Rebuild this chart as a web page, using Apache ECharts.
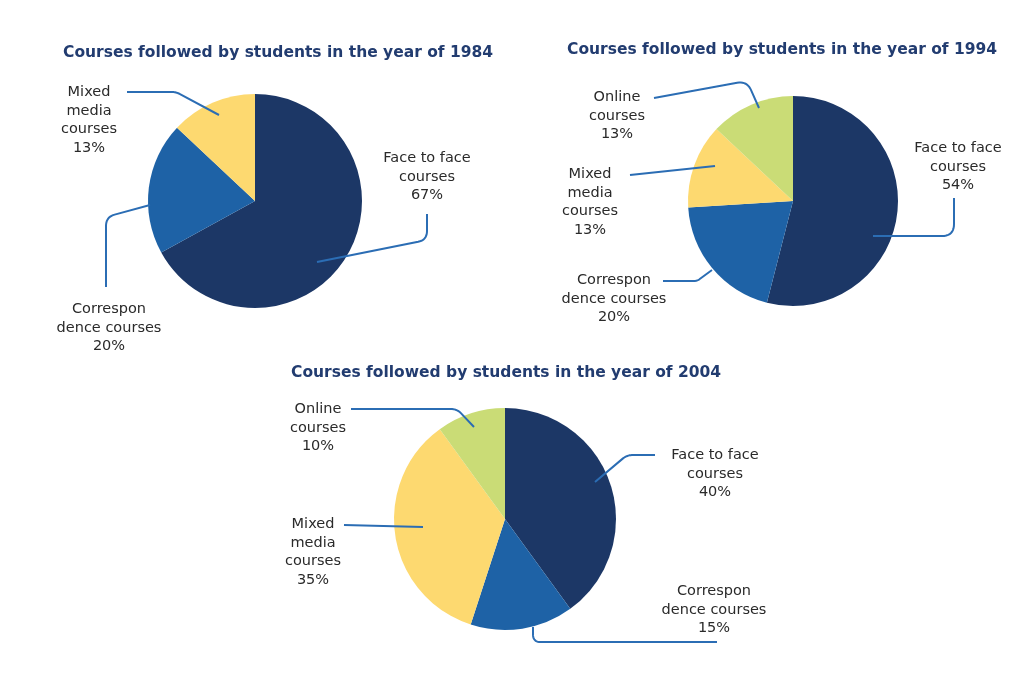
<!DOCTYPE html>
<html><head><meta charset="utf-8">
<script src="https://cdn.jsdelivr.net/npm/echarts@6/dist/echarts.min.js"></script>
<style>html,body{margin:0;padding:0;background:#fff}#c{width:1024px;height:683px}</style>
</head><body><div id="c"></div>
<script>
// ---- data ----
const years = ['1984', '1994', '2004'];
const categories = ['Face to face courses', 'Correspondence courses', 'Mixed media courses', 'Online courses'];
const labelNames = ['Face to face\ncourses', 'Correspon\ndence courses', 'Mixed\nmedia\ncourses', 'Online\ncourses'];
const values1984 = [67, 20, 13];
const values1994 = [54, 20, 13, 13];
const values2004 = [40, 15, 35, 10];
const titleText = 'Courses followed by students in the year of ';

// ---- styles / layout ----
const colors = ['#1c3766', '#1e62a6', '#fdd970', '#cadc76'];
const lineColor = '#2b6db4';
const pies = [
  { center: [255, 201], radius: 107, title: [63, 43], values: values1984,
    layout: [
      { label: [427, 177], line: [[317, 262], [427, 240], [427, 214]], r: 9 },
      { label: [109, 328], line: [[150, 205], [106, 217], [106, 287]], r: 9 },
      { label: [89, 120], line: [[219, 115], [176, 92], [127, 92]], r: 4 }
    ] },
  { center: [793, 201], radius: 105, title: [567, 40], values: values1994,
    layout: [
      { label: [958, 167], line: [[873, 236], [954, 236], [954, 198]], r: 12 },
      { label: [614, 299], line: [[712, 270], [697, 281], [663, 281]], r: 3 },
      { label: [590, 202], line: [[715, 166], [630, 175]], r: 0 },
      { label: [617, 116], line: [[759, 108], [747, 81], [654, 98]], r: 10 }
    ] },
  { center: [505, 519], radius: 111, title: [291, 363], values: values2004,
    layout: [
      { label: [715, 474], line: [[595, 482], [627, 455], [655, 455]], r: 6 },
      { label: [714, 610], line: [[533, 627], [533, 642], [717, 642]], r: 12 },
      { label: [313, 552], line: [[423, 527], [344, 525]], r: 0 },
      { label: [318, 428], line: [[474, 427], [457, 409], [351, 409]], r: 6 }
    ] }
];

function roundCorners(pts, r) {
  if (!r || pts.length < 3) return pts;
  const out = [pts[0]];
  for (let i = 1; i < pts.length - 1; i++) {
    const A = pts[i - 1], P = pts[i], B = pts[i + 1];
    const d1 = Math.hypot(P[0] - A[0], P[1] - A[1]);
    const d2 = Math.hypot(B[0] - P[0], B[1] - P[1]);
    const rr = Math.min(r, d1 / 2, d2 / 2);
    const p1 = [P[0] - (P[0] - A[0]) / d1 * rr, P[1] - (P[1] - A[1]) / d1 * rr];
    const p2 = [P[0] + (B[0] - P[0]) / d2 * rr, P[1] + (B[1] - P[1]) / d2 * rr];
    for (let k = 0; k <= 10; k++) {
      const t = k / 10, u = 1 - t;
      out.push([u * u * p1[0] + 2 * u * t * P[0] + t * t * p2[0], u * u * p1[1] + 2 * u * t * P[1] + t * t * p2[1]]);
    }
  }
  out.push(pts[pts.length - 1]);
  return out;
}

const FONT = 'DejaVu Sans';
const series = [];
pies.forEach((p, si) => {
  // visible slices
  series.push({
    type: 'pie', center: p.center, radius: p.radius, startAngle: 90, clockwise: true,
    silent: true, z: 2, itemStyle: { borderWidth: 0 },
    label: { show: false }, labelLine: { show: false },
    data: p.values.map((v, i) => ({ name: categories[i], value: v, itemStyle: { color: colors[i] } }))
  });
  // transparent overlay carrying labels and leader lines on top of slices
  series.push({
    type: 'pie', center: p.center, radius: p.radius, startAngle: 90, clockwise: true,
    silent: true, z: 5, avoidLabelOverlap: false,
    itemStyle: { color: 'rgba(0,0,0,0)', borderWidth: 0 },
    data: p.values.map((v, i) => ({ name: categories[i], value: v })),
    label: {
      show: true, position: 'outside',
      formatter: (prm) => labelNames[prm.dataIndex] + '\n' + prm.value + '%',
      fontFamily: FONT, fontSize: 14.5, color: '#2a2a2a', lineHeight: 18.5, align: 'center'
    },
    labelLine: { show: true, lineStyle: { color: lineColor, width: 2, opacity: 1 } },
    labelLayout: (prm) => {
      const L = p.layout[prm.dataIndex];
      return {
        x: L.label[0], y: L.label[1], align: 'center', verticalAlign: 'middle',
        labelLinePoints: roundCorners(L.line, L.r)
      };
    }
  });
});

const option = {
  backgroundColor: '#fff',
  animation: false,
  title: pies.map((p, i) => ({
    text: titleText + years[i],
    left: p.title[0], top: p.title[1],
    padding: 0,
    textStyle: { fontFamily: FONT, fontWeight: 'bold', fontSize: 15.5, color: '#223c70', lineHeight: 20 }
  })),
  series: series
};
const chart = echarts.init(document.getElementById('c'), null, { renderer: 'canvas' });
chart.setOption(option);
</script>
</body></html>
